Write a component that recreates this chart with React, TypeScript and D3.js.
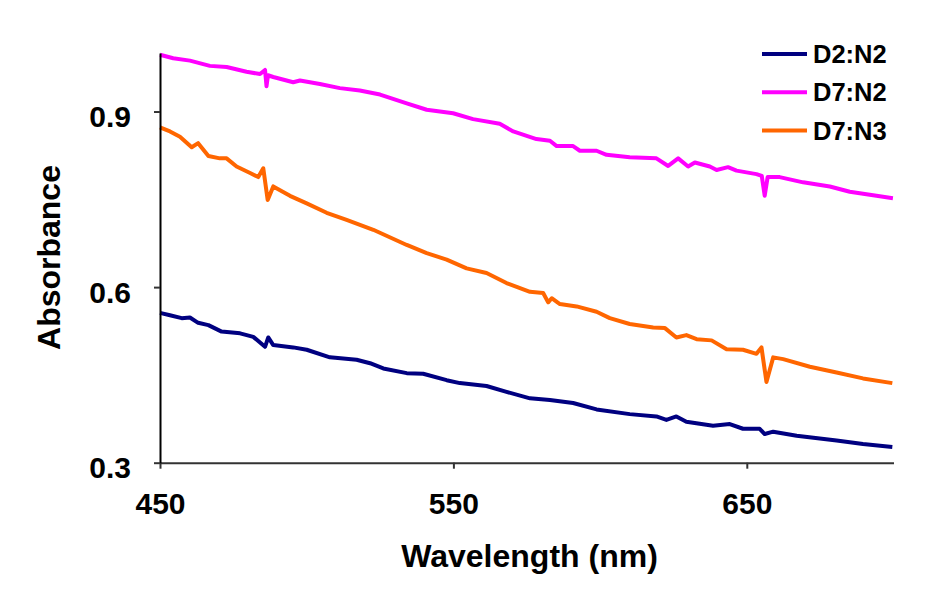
import React, { useEffect, useRef } from 'react';
import * as d3 from 'd3';

// D2:N2
const d2n2Wl = [450.0, 453.4, 457.4, 460.2, 463.0, 466.5, 471.0, 477.3, 481.8, 485.8, 486.9, 488.6, 495.4, 500.0, 507.9, 517.0, 521.6, 526.1, 534.1, 539.7, 547.7, 552.2, 561.3, 568.1, 576.1, 582.9, 590.8, 598.8, 610.1, 619.2, 622.6, 626.0, 629.4, 638.5, 644.2, 648.7, 654.4, 656.1, 659.0, 667.0, 680.6, 689.6, 699.6];
const d2n2Abs = [0.556, 0.552, 0.547, 0.548, 0.539, 0.535, 0.524, 0.521, 0.515, 0.498, 0.514, 0.501, 0.497, 0.493, 0.480, 0.476, 0.470, 0.461, 0.453, 0.452, 0.441, 0.436, 0.431, 0.421, 0.410, 0.407, 0.402, 0.391, 0.383, 0.379, 0.373, 0.379, 0.370, 0.363, 0.366, 0.358, 0.358, 0.349, 0.353, 0.346, 0.338, 0.332, 0.327];

// D7:N2
const d7n2Wl = [450.0, 454.5, 460.2, 467.0, 472.7, 479.5, 484.1, 485.8, 486.3, 486.8, 488.6, 495.4, 497.7, 504.5, 511.3, 518.1, 525.0, 534.1, 540.9, 549.9, 556.7, 565.8, 570.4, 578.3, 582.9, 585.2, 590.8, 593.1, 598.8, 602.2, 610.1, 619.2, 623.2, 626.6, 630.0, 632.3, 637.4, 639.7, 643.6, 646.5, 653.3, 655.1, 656.1, 657.1, 661.2, 669.2, 678.3, 685.1, 694.2, 699.8];
const d7n2Abs = [0.997, 0.991, 0.987, 0.978, 0.976, 0.968, 0.964, 0.971, 0.943, 0.962, 0.959, 0.950, 0.953, 0.947, 0.940, 0.936, 0.929, 0.914, 0.903, 0.897, 0.887, 0.879, 0.866, 0.853, 0.850, 0.841, 0.841, 0.833, 0.833, 0.826, 0.822, 0.820, 0.807, 0.820, 0.806, 0.813, 0.806, 0.800, 0.805, 0.799, 0.793, 0.790, 0.756, 0.788, 0.788, 0.779, 0.772, 0.763, 0.756, 0.752];

// D7:N3
const d7n3Wl = [450.0, 453.4, 456.8, 460.8, 463.0, 466.5, 470.4, 472.7, 476.1, 480.7, 483.5, 485.2, 486.7, 488.6, 494.3, 500.0, 506.8, 513.6, 522.7, 534.1, 540.9, 547.7, 554.5, 561.3, 568.1, 576.1, 580.6, 582.3, 583.5, 586.3, 592.0, 598.8, 603.3, 610.1, 618.1, 622.1, 626.0, 629.4, 632.9, 638.0, 643.1, 648.7, 653.3, 655.0, 656.7, 659.0, 662.4, 671.5, 680.6, 689.6, 699.6];
const d7n3Abs = [0.873, 0.866, 0.857, 0.839, 0.846, 0.824, 0.820, 0.820, 0.806, 0.795, 0.788, 0.803, 0.749, 0.772, 0.756, 0.743, 0.727, 0.715, 0.698, 0.672, 0.658, 0.647, 0.632, 0.624, 0.607, 0.592, 0.590, 0.574, 0.581, 0.571, 0.567, 0.558, 0.547, 0.537, 0.531, 0.530, 0.514, 0.518, 0.511, 0.509, 0.494, 0.493, 0.486, 0.497, 0.438, 0.480, 0.477, 0.464, 0.454, 0.444, 0.436];

const seriesNames = ['D2:N2', 'D7:N2', 'D7:N3'];
const seriesColors = ['#000080', '#FF00FF', '#FF6600'];
const xTicks = [450, 550, 650];
const yTicks = [0.3, 0.6, 0.9];

const App: React.FC = () => {
  const svgRef = useRef<SVGSVGElement>(null);

  useEffect(() => {
    const svg = d3.select(svgRef.current);
    svg.selectAll('*').remove();
    const font = "'Liberation Sans', Arial, sans-serif";

    const x = d3.scaleLinear().domain([450, 700]).range([160, 893.5]);
    const y = d3.scaleLinear().domain([0.3, 1.0]).range([462.7, 53]);

    const series = [
      { wl: d2n2Wl, abs: d2n2Abs },
      { wl: d7n2Wl, abs: d7n2Abs },
      { wl: d7n3Wl, abs: d7n3Abs },
    ];

    const line = d3.line<[number, number]>()
      .x(d => x(d[0]))
      .y(d => y(d[1]));

    series.forEach((s, i) => {
      const pts = s.wl.map((w, j) => [w, s.abs[j]] as [number, number]);
      svg.append('path')
        .attr('d', line(pts))
        .attr('fill', 'none')
        .attr('stroke', seriesColors[i])
        .attr('stroke-width', 4)
        .attr('stroke-linejoin', 'round');
    });

    // axes
    const xAxis = svg.append('g')
      .attr('transform', `translate(0,${y(0.3)})`)
      .call(d3.axisBottom(x).tickValues(xTicks).tickSize(6).tickSizeOuter(0).tickFormat(d3.format('d')) as any);
    xAxis.select('.domain').attr('stroke', '#333').attr('stroke-width', 2);
    xAxis.selectAll('.tick line').attr('stroke', '#333').attr('stroke-width', 2);
    xAxis.selectAll('.tick text')
      .attr('y', 0)
      .attr('dy', 51)
      .attr('font-family', font)
      .attr('font-weight', 'bold')
      .attr('font-size', 30)
      .attr('fill', '#000');

    const yAxis = svg.append('g')
      .attr('transform', `translate(${x(450)},0)`)
      .call(d3.axisLeft(y).tickValues(yTicks).tickSize(6).tickSizeOuter(0).tickFormat(d3.format('.1f')) as any);
    yAxis.select('.domain').attr('stroke', '#000').attr('stroke-width', 2);
    yAxis.selectAll('.tick line').attr('stroke', '#333').attr('stroke-width', 2);
    yAxis.selectAll('.tick text')
      .attr('x', -29)
      .attr('dy', '0.5em')
      .attr('font-family', font)
      .attr('font-weight', 'bold')
      .attr('font-size', 30)
      .attr('fill', '#000');

    svg.append('text')
      .attr('x', 529.5)
      .attr('y', 567)
      .attr('text-anchor', 'middle')
      .attr('font-family', font)
      .attr('font-weight', 'bold')
      .attr('font-size', 32)
      .text('Wavelength (nm)');

    svg.append('text')
      .attr('transform', 'translate(60,257.5) rotate(-90)')
      .attr('text-anchor', 'middle')
      .attr('font-family', font)
      .attr('font-weight', 'bold')
      .attr('font-size', 32)
      .text('Absorbance');

    // legend
    seriesNames.forEach((name, i) => {
      const ly = 54 + i * 38.3;
      svg.append('line')
        .attr('x1', 762).attr('x2', 807)
        .attr('y1', ly).attr('y2', ly)
        .attr('stroke', seriesColors[i])
        .attr('stroke-width', 4);
      svg.append('text')
        .attr('x', 813)
        .attr('y', ly + 9)
        .attr('font-family', font)
        .attr('font-weight', 'bold')
        .attr('font-size', 25.5)
        .attr('fill', '#000')
        .text(name);
    });
  }, []);

  return (
    <div style={{ position: 'absolute', left: 0, top: 0 }}>
      <svg ref={svgRef} width={939} height={600} style={{ display: 'block', background: '#fff' }} />
    </div>
  );
};

export default App;
